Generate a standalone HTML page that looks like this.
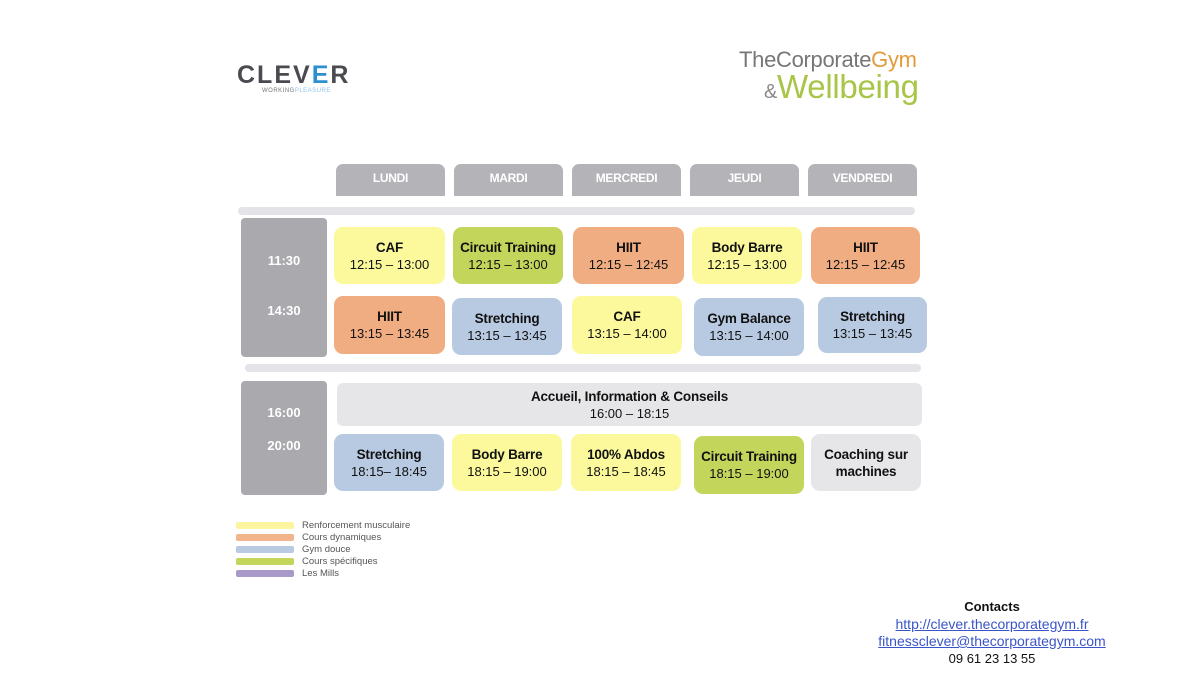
<!DOCTYPE html>
<html><head><meta charset="utf-8"><style>
body{margin:0;width:1200px;height:675px;background:#fff;position:relative;overflow:hidden;font-family:"Liberation Sans",sans-serif;}
.a{position:absolute;}
.h{background:#b4b4b8;color:#fff;font-weight:bold;font-size:12px;text-align:center;line-height:28px;border-radius:7px 7px 0 0;height:32px;top:164px;width:109px;letter-spacing:-0.3px}
.bar{background:#e4e4e8;height:8px;border-radius:4px}
.t{background:#a9a9ae;border-radius:4px;width:86px;left:241px}
.tl{color:#fff;font-weight:bold;font-size:13px;width:86px;text-align:center;left:241px}
.b{border-radius:9px;text-align:center;display:flex;flex-direction:column;justify-content:center;color:#111;font-size:13px;line-height:17px}
.b b{font-size:13.5px;letter-spacing:-0.2px}
.y{background:#fbf99c}.o{background:#f1ad82}.bl{background:#b8cae2}.g{background:#c4d55c}.gr{background:#e6e6e8}
.sw{left:236px;width:58px;height:7px;border-radius:2px}
.lt{left:302px;font-size:9.5px;color:#555;line-height:10px}
</style></head><body>
<div class="a" style="left:237px;top:61px;font-size:25px;font-weight:bold;color:#4a4a50;letter-spacing:2px">CLEV<span style="color:#2b8fd0">E</span>R</div>
<div class="a" style="left:262px;top:88px;font-size:6px;color:#777;letter-spacing:0.5px">WORKING<span style="color:#8cc5ea">PLEASURE</span></div>
<div class="a" style="left:739px;top:47px;font-size:22px;color:#777;letter-spacing:-0.3px">TheCorporate<span style="color:#e49a38">Gym</span></div>
<div class="a" style="left:764px;top:68px;font-size:33px;color:#a8c547;letter-spacing:-0.3px"><span style="font-size:20px;color:#888">&amp;</span>Wellbeing</div>

<div class="a h" style="left:336px">LUNDI</div>
<div class="a h" style="left:454px">MARDI</div>
<div class="a h" style="left:572px">MERCREDI</div>
<div class="a h" style="left:690px">JEUDI</div>
<div class="a h" style="left:808px">VENDREDI</div>

<div class="a bar" style="left:238px;top:207px;width:677px"></div>
<div class="a t" style="top:218px;height:139px"></div>
<div class="a tl" style="top:253px">11:30</div>
<div class="a tl" style="top:303px">14:30</div>

<div class="a b y" style="left:334px;top:227px;width:111px;height:57px"><b>CAF</b>12:15 – 13:00</div>
<div class="a b g" style="left:453px;top:227px;width:110px;height:57px"><b>Circuit Training</b>12:15 – 13:00</div>
<div class="a b o" style="left:573px;top:227px;width:111px;height:57px"><b>HIIT</b>12:15 – 12:45</div>
<div class="a b y" style="left:692px;top:227px;width:110px;height:57px"><b>Body Barre</b>12:15 – 13:00</div>
<div class="a b o" style="left:811px;top:227px;width:109px;height:57px"><b>HIIT</b>12:15 – 12:45</div>

<div class="a b o" style="left:334px;top:296px;width:111px;height:58px"><b>HIIT</b>13:15 – 13:45</div>
<div class="a b bl" style="left:452px;top:298px;width:110px;height:57px"><b>Stretching</b>13:15 – 13:45</div>
<div class="a b y" style="left:572px;top:296px;width:110px;height:58px"><b>CAF</b>13:15 – 14:00</div>
<div class="a b bl" style="left:694px;top:298px;width:110px;height:58px"><b>Gym Balance</b>13:15 – 14:00</div>
<div class="a b bl" style="left:818px;top:297px;width:109px;height:56px"><b>Stretching</b>13:15 – 13:45</div>

<div class="a bar" style="left:245px;top:364px;width:676px"></div>
<div class="a t" style="top:381px;height:114px"></div>
<div class="a tl" style="top:405px">16:00</div>
<div class="a tl" style="top:438px">20:00</div>

<div class="a b gr" style="left:337px;top:383px;width:585px;height:43px;border-radius:6px"><b>Accueil, Information &amp; Conseils</b>16:00 – 18:15</div>

<div class="a b bl" style="left:334px;top:434px;width:110px;height:57px"><b>Stretching</b>18:15– 18:45</div>
<div class="a b y" style="left:452px;top:434px;width:110px;height:57px"><b>Body Barre</b>18:15 – 19:00</div>
<div class="a b y" style="left:571px;top:434px;width:110px;height:57px"><b>100% Abdos</b>18:15 – 18:45</div>
<div class="a b g" style="left:694px;top:436px;width:110px;height:58px"><b>Circuit Training</b>18:15 – 19:00</div>
<div class="a b gr" style="left:811px;top:434px;width:110px;height:57px"><b>Coaching sur<br>machines</b></div>

<div class="a sw y" style="top:522px;background:#fbf5a0"></div><div class="a lt" style="top:521px">Renforcement musculaire</div>
<div class="a sw o" style="top:534px;background:#f2b48a"></div><div class="a lt" style="top:533px">Cours dynamiques</div>
<div class="a sw" style="top:546px;background:#b9cbe3"></div><div class="a lt" style="top:545px">Gym douce</div>
<div class="a sw" style="top:558px;background:#c4d55c"></div><div class="a lt" style="top:557px">Cours spécifiques</div>
<div class="a sw" style="top:570px;background:#a899c9"></div><div class="a lt" style="top:569px">Les Mills</div>

<div class="a" style="left:842px;width:300px;top:599px;text-align:center;font-size:13px;line-height:16.5px;color:#111">
<b>Contacts</b><br>
<span style="color:#3a55c8;text-decoration:underline;font-size:14px">http://clever.thecorporategym.fr</span><br>
<span style="color:#3a55c8;text-decoration:underline;font-size:14px">fitnessclever@thecorporategym.com</span><br>
09 61 23 13 55</div>
</body></html>
